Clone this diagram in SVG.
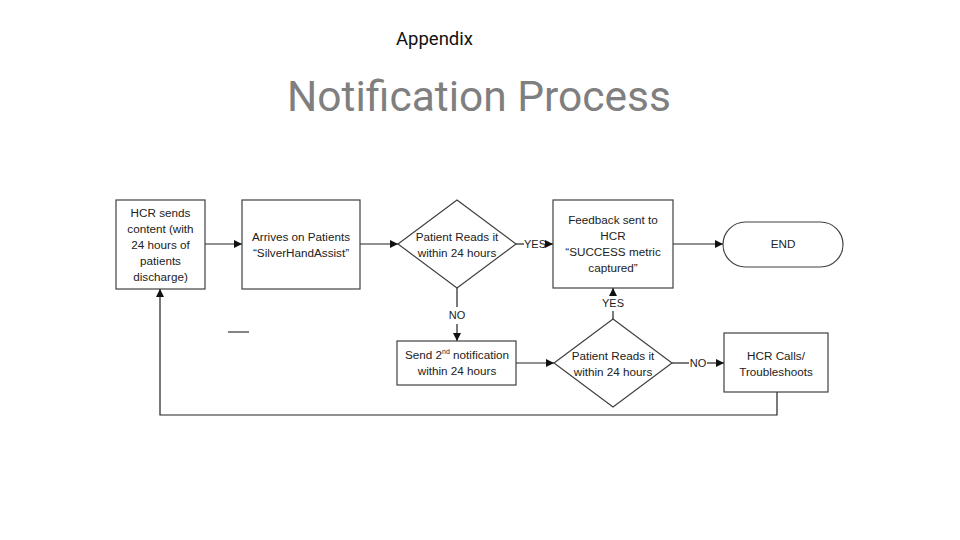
<svg xmlns="http://www.w3.org/2000/svg" width="960" height="540" viewBox="0 0 960 540">
<style>
.n{fill:#fff;stroke:#404040;stroke-width:1.2}
.t{font-family:"Liberation Sans",Arial,sans-serif;font-size:11.7px;fill:#222;text-anchor:middle}
.c{fill:none;stroke:#222;stroke-width:1.2}
.l{font-family:"Liberation Sans",Arial,sans-serif;font-size:11px;fill:#222;text-anchor:middle}
</style>
<defs>
<marker id="ah" viewBox="0 0 10 10" refX="10" refY="5" markerWidth="8" markerHeight="8" markerUnits="userSpaceOnUse" orient="auto">
<path d="M0,0 L10,5 L0,10 Z" fill="#111"/>
</marker>
</defs>
<rect width="960" height="540" fill="#fff"/>
<text x="434.5" y="45" font-family="Roboto,'Liberation Sans',sans-serif" font-size="18.5" fill="#111" text-anchor="middle">Appendix</text>
<text x="479" y="111" font-family="Roboto,'Liberation Sans',sans-serif" font-size="42.5" fill="#7f7f7f" text-anchor="middle">Notification Process</text>
<line x1="228" y1="332" x2="249" y2="332" stroke="#333" stroke-width="1.2"/>
<g id="connectors">
<line class="c" x1="205" y1="244" x2="242" y2="244" marker-end="url(#ah)"/>
<line class="c" x1="360" y1="244" x2="398" y2="244" marker-end="url(#ah)"/>
<polyline class="c" points="516,244 524,244"/>
<line class="c" x1="545" y1="244" x2="553" y2="244" marker-end="url(#ah)"/>
<text class="l" x="535" y="248">YES</text>
<line class="c" x1="673" y1="244" x2="723" y2="244" marker-end="url(#ah)"/>
<line class="c" x1="457" y1="288" x2="457" y2="307"/>
<text class="l" x="457" y="319">NO</text>
<line class="c" x1="457" y1="324" x2="457" y2="341" marker-end="url(#ah)"/>
<line class="c" x1="516" y1="363" x2="554" y2="363" marker-end="url(#ah)"/>
<line class="c" x1="613" y1="319" x2="613" y2="311"/>
<text class="l" x="613" y="307">YES</text>
<line class="c" x1="613" y1="296" x2="613" y2="288" marker-end="url(#ah)"/>
<line class="c" x1="672" y1="363" x2="689" y2="363"/>
<text class="l" x="698" y="367">NO</text>
<line class="c" x1="707" y1="363" x2="724" y2="363" marker-end="url(#ah)"/>
<polyline class="c" points="777,392 777,415 160,415 160,289" marker-end="url(#ah)"/>
</g>
<g id="hcr-sends">
<rect class="n" x="116" y="200" width="89" height="89"/>
<text class="t" x="160.5" y="217">HCR sends</text>
<text class="t" x="160.5" y="233">content (with</text>
<text class="t" x="160.5" y="249">24 hours of</text>
<text class="t" x="160.5" y="265">patients</text>
<text class="t" x="160.5" y="281">discharge)</text>
</g>
<g id="arrives">
<rect class="n" x="242" y="200" width="118" height="89"/>
<text class="t" x="301" y="241">Arrives on Patients</text>
<text class="t" x="301" y="257">“SilverHandAssist”</text>
</g>
<g id="reads1">
<polygon class="n" points="457,200 516,244 457,288 398,244"/>
<text class="t" x="457" y="241">Patient Reads it</text>
<text class="t" x="457" y="257">within 24 hours</text>
</g>
<g id="feedback">
<rect class="n" x="553" y="200" width="120" height="88"/>
<text class="t" x="613" y="224">Feedback sent to</text>
<text class="t" x="613" y="240">HCR</text>
<text class="t" x="613" y="256">“SUCCESS metric</text>
<text class="t" x="613" y="272">captured”</text>
</g>
<g id="end">
<rect class="n" x="723" y="222" width="120" height="45" rx="22.5"/>
<text class="t" x="783" y="248">END</text>
</g>
<g id="send2">
<rect class="n" x="397" y="341" width="119" height="44"/>
<text class="t" x="457" y="359">Send 2<tspan font-size="7" dy="-5">nd</tspan><tspan dy="5"> notification</tspan></text>
<text class="t" x="457" y="375">within 24 hours</text>
</g>
<g id="reads2">
<polygon class="n" points="613,319 672,363 613,407 554,363"/>
<text class="t" x="613" y="360">Patient Reads it</text>
<text class="t" x="613" y="376">within 24 hours</text>
</g>
<g id="hcr-calls">
<rect class="n" x="724" y="333" width="104" height="59"/>
<text class="t" x="776" y="360">HCR Calls/</text>
<text class="t" x="776" y="376">Troubleshoots</text>
</g>
</svg>
